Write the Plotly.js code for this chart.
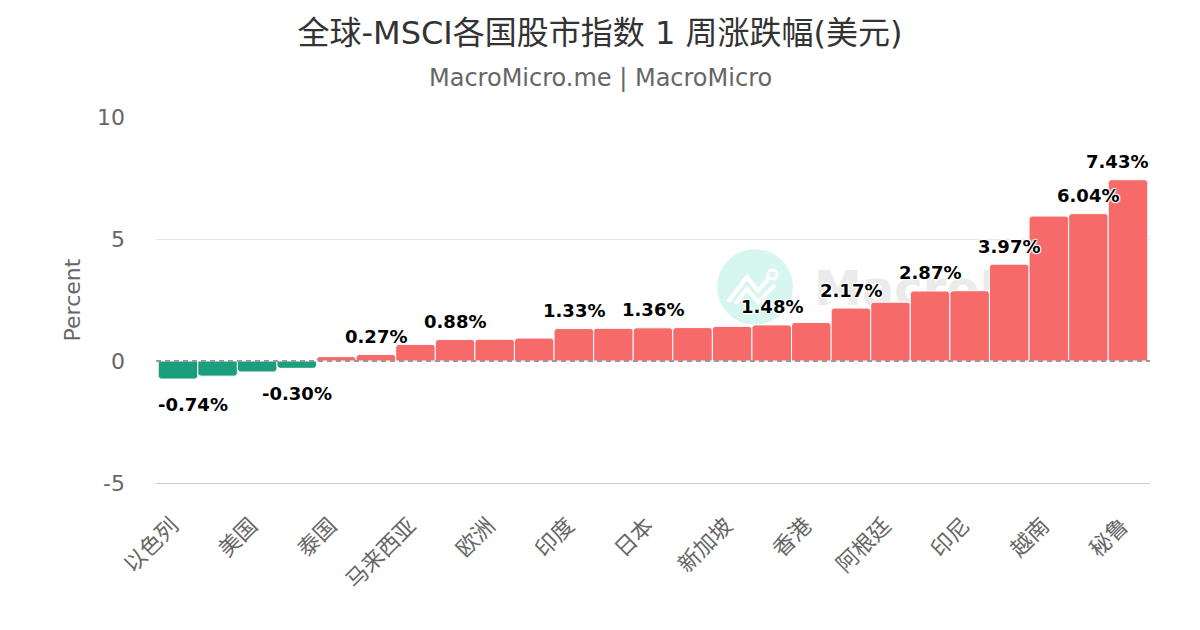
<!DOCTYPE html>
<html>
<head>
<meta charset="utf-8">
<script src="https://cdn.plot.ly/plotly-3.0.1.min.js"></script>
<style>html,body{margin:0;padding:0;background:#fff;}#chart{width:1200px;height:630px;}</style>
</head>
<body>
<div id="chart"></div>
<script>
// Categories (sorted ascending by weekly change); only every other label is visible in the reference
const categories = ['以色列','中国','美国','台湾','泰国','英国','马来西亚','韩国','欧洲','德国','印度','法国','日本','澳洲','新加坡','加拿大','香港','巴西','阿根廷','菲律宾','印尼','墨西哥','越南','智利','秘鲁'];
// Weekly change, percent (USD)
const values = [-0.74,-0.62,-0.45,-0.30,0.18,0.27,0.68,0.88,0.89,0.94,1.33,1.34,1.36,1.37,1.42,1.48,1.58,2.17,2.41,2.87,2.88,3.97,5.94,6.04,7.43];
// Bars whose value label is shown in the reference
const labelIndices = [0,3,5,7,10,12,15,17,19,21,23,24];
// Y axis ticks
const yTickVals = [-5, 0, 5, 10];
const yTickText = ['-5', '0', '5', '10'];

const FONT = 'DejaVu Sans, "Noto Sans CJK SC", sans-serif';
const RED = '#F76A6A';
const GREEN = '#1B9E7E';

const colors = values.map(v => v < 0 ? GREEN : RED);

const trace = {
  type: 'bar',
  x: categories,
  y: values,
  marker: {color: colors, line: {color: '#ffffff', width: 1}, cornerradius: 4},
  hoverinfo: 'x+y'
};

const annotations = labelIndices.map(i => {
  const v = values[i];
  let xs = 0;
  if (i === 0) xs = 15;
  if (i === values.length - 1) xs = -11;
  return {
    x: categories[i], y: v, xref: 'x', yref: 'y',
    text: v.toFixed(2) + '%',
    showarrow: false,
    yanchor: 'middle',
    yshift: v >= 0 ? 18 : -25,
    xshift: xs,
    font: {family: FONT, size: 18, color: '#000000', weight: 'bold',
           shadow: '1px 1px 1px #fff, -1px -1px 1px #fff, 1px -1px 1px #fff, -1px 1px 1px #fff'}
  };
});

annotations.push({
  xref: 'paper', yref: 'paper', x: 0.4467, y: 1.1066,
  text: 'MacroMicro.me | MacroMicro', showarrow: false,
  xanchor: 'center', yanchor: 'middle',
  font: {family: FONT, size: 24, color: '#666666'}
});

const shapes = [
  // watermark circle
  {type: 'circle', layer: 'below', xref: 'paper', yref: 'paper',
   x0: 0.5644, x1: 0.6408, y0: 0.432, y1: 0.639,
   fillcolor: '#D7F6F0', line: {width: 0}},
  // watermark icon
  {type: 'path', layer: 'below', xref: 'paper', yref: 'paper',
   xsizemode: 'pixel', ysizemode: 'pixel', xanchor: 0.6026, yanchor: 0.5355,
   path: 'M -27,-15 L -8,10 L 3,-4 L 14,9 M -20,-17 L -8,-2 L 3,-15 L 20,2',
   line: {color: '#ffffff', width: 4}},
  {type: 'circle', layer: 'below', xref: 'paper', yref: 'paper',
   xsizemode: 'pixel', ysizemode: 'pixel', xanchor: 0.6026, yanchor: 0.5355,
   x0: 13, x1: 22, y0: 8, y1: 17,
   fillcolor: '#D7F6F0', line: {color: '#ffffff', width: 3}},
  // watermark text
  {type: 'rect', layer: 'below', xref: 'paper', yref: 'paper',
   x0: 0.656, x1: 0.97, y0: 0.48, y1: 0.60,
   fillcolor: 'rgba(0,0,0,0)', line: {width: 0},
   label: {text: 'MacroMicro', textposition: 'middle left',
           font: {family: FONT, size: 48, color: '#EBEBEB', weight: 'bold'}}},
  // dashed zero line
  {type: 'line', layer: 'above', xref: 'paper', yref: 'y',
   x0: 0, x1: 1, y0: 0, y1: 0,
   line: {color: '#999999', width: 2, dash: '5px,4px'}}
];

const layout = {
  width: 1200, height: 630,
  margin: {l: 156, r: 50, t: 117, b: 147},
  paper_bgcolor: '#ffffff', plot_bgcolor: '#ffffff',
  font: {family: FONT, color: '#666666'},
  title: {
    text: '全球-MSCI各国股市指数 1 周涨跌幅(美元)',
    font: {family: FONT, size: 32, color: '#333333'},
    x: 0.5, xref: 'container', xanchor: 'center',
    y: 0.948, yref: 'container', yanchor: 'middle'
  },
  bargap: 0,
  showlegend: false,
  xaxis: {
    type: 'category',
    tickmode: 'linear', tick0: 0, dtick: 2,
    tickangle: -45,
    tickfont: {family: FONT, size: 22, color: '#666666'},
    ticklabelstandoff: 20,
    ticklabelshift: -6,
    showline: true, linecolor: '#cccccc', linewidth: 1,
    showgrid: false, ticks: '', zeroline: false,
    automargin: false
  },
  yaxis: {
    range: [-5, 10],
    tickmode: 'array', tickvals: yTickVals, ticktext: yTickText,
    tickfont: {family: FONT, size: 22, color: '#666666'},
    gridcolor: '#e6e6e6', gridwidth: 1,
    zeroline: false, showline: false, ticks: '',
    ticklabelstandoff: 30,
    title: {text: 'Percent', font: {family: FONT, size: 22, color: '#666666'}, standoff: 10},
    automargin: false
  },
  shapes: shapes,
  annotations: annotations
};

Plotly.newPlot('chart', [trace], layout, {displayModeBar: false, staticPlot: true});
</script>
</body>
</html>
